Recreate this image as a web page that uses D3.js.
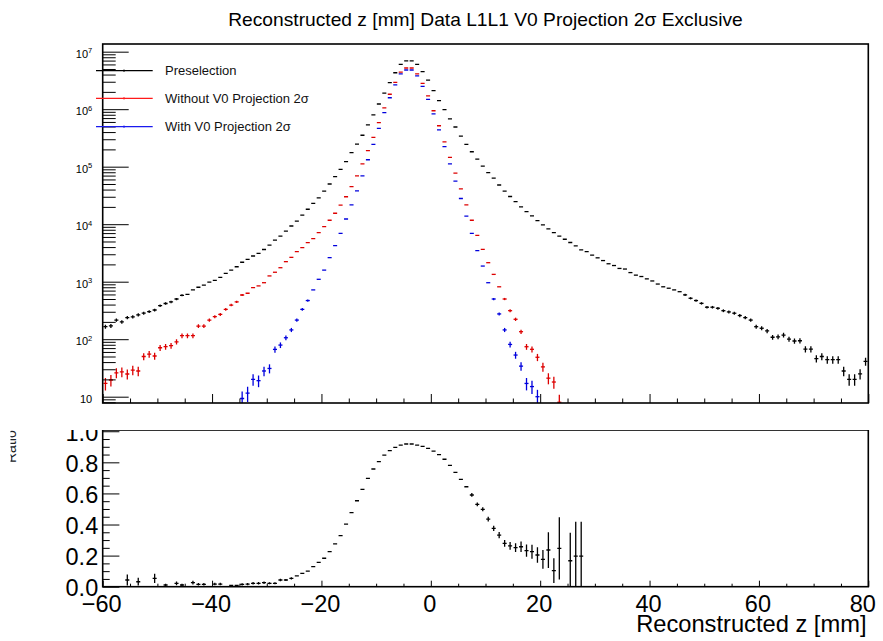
<!DOCTYPE html>
<html lang="en">
<head>
<meta charset="UTF-8">
<script src="https://cdn.jsdelivr.net/npm/d3@7"></script>
<style>
  body { margin: 0; background: #fff; }
  text { font-family: "Liberation Sans", Arial, Helvetica, sans-serif; }
</style>
</head>
<body>
<svg id="chart" width="883" height="641"></svg>
<script>
// binning: 140 bins of 1 mm from -60 to 80
var binLow = -60, binWidth = 1, nBins = 140;

// Preselection (black), counts per bin, bins 0..139
var preselection = [
  165,170,215,200,237,245,265,283,302,322,
  382,418,445,500,580,600,720,800,870,980,
  1050,1190,1400,1590,1820,2180,2450,2800,3100,3630,
  4340,5300,6200,7600,9300,11300,14400,18200,23000,28700,
  37700,50000,67000,90000,122000,175000,247000,352000,534000,795000,
  1230000,1900000,2900000,4300000,6000000,6900000,6900000,6000000,4500000,3200000,
  2100000,1410000,980000,680000,490000,340000,245000,182000,135000,102000,
  79000,63000,48000,37700,30300,24700,20000,16500,14000,11500,
  9700,8300,7150,6200,5470,4800,4200,3570,3330,2900,
  2600,2330,2050,1910,1700,1660,1440,1300,1230,1120,
  1030,910,815,770,720,670,590,515,470,420,
  360,360,345,313,298,283,258,237,215,165,
  155,139,108,110,118,100,93,94,67,67,
  46,50,44,44,44,28,20,20,25,41
];

// Without V0 Projection 2 sigma (red), bins 0..83
var withoutV0First = 0;
var withoutV0 = [
  17,19.5,26,27,24.8,29,28,50,55,51,
  71,74,77,90,115,115,115,169,169,215,
  246,270,330,392,446,587,630,790,845,960,
  1260,1460,1750,2230,2650,3330,3900,4770,5600,7150,
  9100,11700,15500,21500,30000,45000,69000,112000,190000,323000,
  584000,1050000,1820000,2930000,4400000,5200000,5200000,4100000,2800000,1700000,
  940000,515000,270000,145000,77000,41000,21600,11700,6400,3640,
  2140,1340,815,500,313,222,135,74,66.7,48.5,
  33,21,18,8
];

// With V0 Projection 2 sigma (blue), bins 25..79
var withV0First = 25;
var withV0 = [
  9.3,11.5,20,19,28,
  31,66.5,79,106,145,215,330,470,720,1100,
  1590,2620,4250,6950,12300,21600,38000,69000,132000,245000,
  465000,870000,1580000,2640000,4100000,4800000,4800000,3800000,2500000,1480000,
  830000,437000,224000,112000,56000,28000,13800,6950,3460,1870,
  960,500,275,145,81,53,34,17,15,10
];

// ratio panel, bins 0..87
var ratio = [
  null,null,null,null,0.043,null,0.032,null,null,0.054,
  null,0.011,null,0.022,0.011,null,0.026,0.015,0.015,null,
  0.017,0.017,null,0.009,0.009,0.015,0.017,0.022,0.022,0.026,
  0.022,0.022,0.043,0.043,0.054,0.069,0.086,0.10,0.129,0.157,
  0.183,0.225,0.275,0.328,0.403,0.476,0.553,0.626,0.697,0.757,
  0.804,0.847,0.875,0.896,0.911,0.918,0.918,0.911,0.903,0.89,
  0.872,0.85,0.82,0.78,0.735,0.69,0.643,0.59,0.53,0.498,
  0.435,0.375,0.332,0.279,0.262,0.251,0.257,0.232,0.225,0.204,
  0.176,0.236,0.103,0.247,null,0.167,0.197,0.197
];
var ratioErr = [
  null,null,null,null,0.035,null,0.025,null,null,0.03,
  null,0.008,null,0.012,0.008,null,0.012,0.008,0.008,null,
  0.008,0.008,null,0.006,0.006,0.007,0.007,0.008,0.008,0.008,
  0.007,0.007,0.008,0.007,0.007,0.006,0.006,0.005,0.005,0.004,
  0.004,0.003,0.003,0.003,0.003,0.003,0.003,0.003,0.003,0.003,
  0.003,0.003,0.003,0.003,0.003,0.003,0.003,0.003,0.003,0.003,
  0.003,0.003,0.003,0.003,0.003,0.004,0.005,0.012,0.012,0.013,
  0.015,0.017,0.02,0.022,0.025,0.028,0.033,0.04,0.045,0.05,
  0.06,0.115,0.08,0.2,null,0.18,0.22,0.22
];

var xMajorTicks = [-60, -40, -20, 0, 20, 40, 60, 80];
var xTickLabels = ["\u221260", "\u221240", "\u221220", "0", "20", "40", "60", "80"];
var logMajorTicks = [10, 1e2, 1e3, 1e4, 1e5, 1e6, 1e7];
var ratioMajorTicks = [0, 0.2, 0.4, 0.6, 0.8, 1.0];
var ratioTickLabels = ["0.0", "0.2", "0.4", "0.6", "0.8", "1.0"];

var legendNames = ["Preselection", "Without V0 Projection 2\u03c3", "With V0 Projection 2\u03c3"];
var seriesColors = ["#000000", "#dd0000", "#0000dd"];
var legendColors = ["#000000", "#ff1a1a", "#1a1aee"];

// layout
var left = 102.7, right = 868.3;
var topY0 = 44, topY1 = 403;
var botY0 = 430, botY1 = 586.7;

var svg = d3.select("#chart");

var x = d3.scaleLinear().domain([binLow, binLow + nBins * binWidth]).range([left, right]);
var yLog = d3.scaleLog().domain([7.77, 1.36e7]).range([topY1, topY0]);
var yRat = d3.scaleLinear().domain([0, 1.008]).range([botY1, botY0]);

var defs = svg.append("defs");
defs.append("clipPath").attr("id", "clipTop").append("rect")
  .attr("x", left).attr("y", topY0).attr("width", right - left).attr("height", topY1 - topY0);
defs.append("clipPath").attr("id", "clipBot").append("rect")
  .attr("x", left).attr("y", botY0).attr("width", right - left).attr("height", botY1 - botY0);
defs.append("clipPath").attr("id", "clipPad").append("rect")
  .attr("x", 10.5).attr("y", botY0).attr("width", 883).attr("height", 641 - botY0);

// title
var title = svg.append("text")
  .attr("x", 485.5).attr("y", 26)
  .attr("text-anchor", "middle")
  .attr("font-size", 19)
  .text("Reconstructed z [mm] Data L1L1 V0 Projection 2\u03c3 Exclusive");
var tl = title.node().getComputedTextLength();
title.attr("font-size", 19 * 515 / tl);

function toPoints(values, first) {
  var pts = [];
  values.forEach(function(v, k) {
    if (v == null) return;
    pts.push({ i: first + k, v: v });
  });
  return pts;
}

function drawSeries(g, pts, yScale, errOf, color) {
  var bw = x(binLow + binWidth) - x(binLow);
  var half = bw * 0.37;
  var gs = g.append("g").attr("stroke", color).attr("stroke-width", 1.3).attr("fill", "none");
  gs.selectAll("line.h").data(pts).join("line").attr("class", "h")
    .attr("x1", function(d) { return x(binLow + (d.i + 0.5) * binWidth) - half; })
    .attr("x2", function(d) { return x(binLow + (d.i + 0.5) * binWidth) + half; })
    .attr("y1", function(d) { return yScale(d.v); })
    .attr("y2", function(d) { return yScale(d.v); });
  var withBars = pts.filter(function(d) {
    var e = errOf(d);
    return Math.abs(yScale(d.v + e) - yScale(d.v)) > 1;
  });
  gs.selectAll("line.v").data(withBars).join("line").attr("class", "v")
    .attr("x1", function(d) { return x(binLow + (d.i + 0.5) * binWidth); })
    .attr("x2", function(d) { return x(binLow + (d.i + 0.5) * binWidth); })
    .attr("y1", function(d) { return yScale(d.v + errOf(d)); })
    .attr("y2", function(d) {
      var lo = d.v - errOf(d);
      if (yScale.base) lo = Math.max(lo, 0.5);
      return yScale(lo);
    });
}

// ---------- top panel ----------
var gTopData = svg.append("g").attr("clip-path", "url(#clipTop)");
function poisson(d) { return Math.sqrt(d.v); }
drawSeries(gTopData, toPoints(preselection, 0), yLog, poisson, seriesColors[0]);
drawSeries(gTopData, toPoints(withoutV0, withoutV0First), yLog, poisson, seriesColors[1]);
drawSeries(gTopData, toPoints(withV0, withV0First), yLog, poisson, seriesColors[2]);

var logMinorTicks = [];
logMajorTicks.forEach(function(p) {
  for (var k = 2; k <= 9; k++) {
    var t = p * k;
    if (t >= yLog.domain()[0] && t <= yLog.domain()[1]) logMinorTicks.push(t);
  }
});
logMinorTicks.push(8, 9);

function styleAxis(g) {
  g.select(".domain").remove();
  g.attr("color", "#000");
  g.selectAll(".tick line").attr("stroke-width", 1);
}

svg.append("g").attr("transform", "translate(" + left + ",0)")
  .call(d3.axisLeft(yLog).tickValues(logMinorTicks).tickSize(-13).tickFormat(""))
  .call(styleAxis);

var yMajor = svg.append("g").attr("transform", "translate(" + left + ",0)")
  .call(d3.axisLeft(yLog).tickValues(logMajorTicks).tickSize(-26).tickPadding(10.5))
  .call(styleAxis);
yMajor.attr("font-family", null).attr("font-size", null);
yMajor.selectAll(".tick text").each(function(d) {
  var t = d3.select(this);
  var e = Math.round(Math.log10(d));
  t.text("").attr("font-size", 11).attr("dy", "0.5em");
  t.append("tspan").text("10");
  if (e > 1) t.append("tspan").attr("dy", "-0.6em").attr("font-size", 7.5).text(e);
});

var xMinorTicks = d3.range(binLow, binLow + nBins * binWidth + 1, 5)
  .filter(function(v) { return xMajorTicks.indexOf(v) < 0; });

svg.append("g").attr("transform", "translate(0," + topY1 + ")")
  .call(d3.axisBottom(x).tickValues(xMinorTicks).tickSize(-4.5).tickFormat(""))
  .call(styleAxis);
svg.append("g").attr("transform", "translate(0," + topY1 + ")")
  .call(d3.axisBottom(x).tickValues(xMajorTicks).tickSize(-9).tickFormat(""))
  .call(styleAxis);

svg.append("rect")
  .attr("x", left).attr("y", topY0).attr("width", right - left).attr("height", topY1 - topY0)
  .attr("fill", "none").attr("stroke", "#000").attr("stroke-width", 1.6);

// legend
var legendY = [70.7, 98.3, 126.7];
var gLeg = svg.append("g");
legendNames.forEach(function(name, k) {
  gLeg.append("line").attr("x1", 96).attr("x2", 152.7)
    .attr("y1", legendY[k]).attr("y2", legendY[k])
    .attr("stroke", legendColors[k]).attr("stroke-width", 1.3);
  gLeg.append("line").attr("x1", 124).attr("x2", 124)
    .attr("y1", legendY[k] - 1.2).attr("y2", legendY[k] + 1.2)
    .attr("stroke", legendColors[k]).attr("stroke-width", 1);
  gLeg.append("text").attr("x", 165).attr("y", legendY[k] + 4.6)
    .attr("font-size", 13).attr("fill", "#111").text(name);
});

// ---------- ratio panel ----------
var gBotData = svg.append("g").attr("clip-path", "url(#clipBot)");
var ratioPts = [];
ratio.forEach(function(v, i) { if (v != null) ratioPts.push({ i: i, v: v, e: ratioErr[i] }); });
drawSeries(gBotData, ratioPts, yRat, function(d) { return d.e; }, "#000");

var gPad = svg.append("g").attr("clip-path", "url(#clipPad)");

var ratioMinorTicks = d3.range(0, 1.0001, 0.05)
  .filter(function(v) { return Math.abs(v * 5 - Math.round(v * 5)) > 1e-6; });

gPad.append("g").attr("transform", "translate(" + left + ",0)")
  .call(d3.axisLeft(yRat).tickValues(ratioMinorTicks).tickSize(-7).tickFormat(""))
  .call(styleAxis);
var rMajor = gPad.append("g").attr("transform", "translate(" + left + ",0)")
  .call(d3.axisLeft(yRat).tickValues(ratioMajorTicks).tickSize(-16.7).tickPadding(4.5)
    .tickFormat(function(d, k) { return ratioTickLabels[k]; }))
  .call(styleAxis);
rMajor.attr("font-family", null).attr("font-size", null);
rMajor.selectAll(".tick text").attr("font-size", 23.5).attr("dy", "0.38em");

gPad.append("g").attr("transform", "translate(0," + botY1 + ")")
  .call(d3.axisBottom(x).tickValues(xMinorTicks).tickSize(-3).tickFormat(""))
  .call(styleAxis);
var xAx = gPad.append("g").attr("transform", "translate(0," + botY1 + ")")
  .call(d3.axisBottom(x).tickValues(xMajorTicks).tickSize(-6).tickPadding(9)
    .tickFormat(function(d, k) { return xTickLabels[k]; }))
  .call(styleAxis);
xAx.attr("font-family", null).attr("font-size", null);
xAx.selectAll(".tick text").attr("font-size", 23.5).attr("dx", -1.5);
xAx.selectAll(".tick text").filter(function(d) { return d === 80; }).attr("dx", -6);

gPad.append("rect")
  .attr("x", left).attr("y", botY0).attr("width", right - left).attr("height", botY1 - botY0)
  .attr("fill", "none").attr("stroke", "#000").attr("stroke-width", 1.6);

gPad.append("text")
  .attr("transform", "translate(15.5,463) rotate(-90)")
  .attr("font-size", 14).attr("fill", "#222")
  .text("Ratio");

svg.append("text")
  .attr("x", 866.5).attr("y", 632)
  .attr("text-anchor", "end")
  .attr("font-size", 23.7)
  .text("Reconstructed z [mm]");
</script>
</body>
</html>
